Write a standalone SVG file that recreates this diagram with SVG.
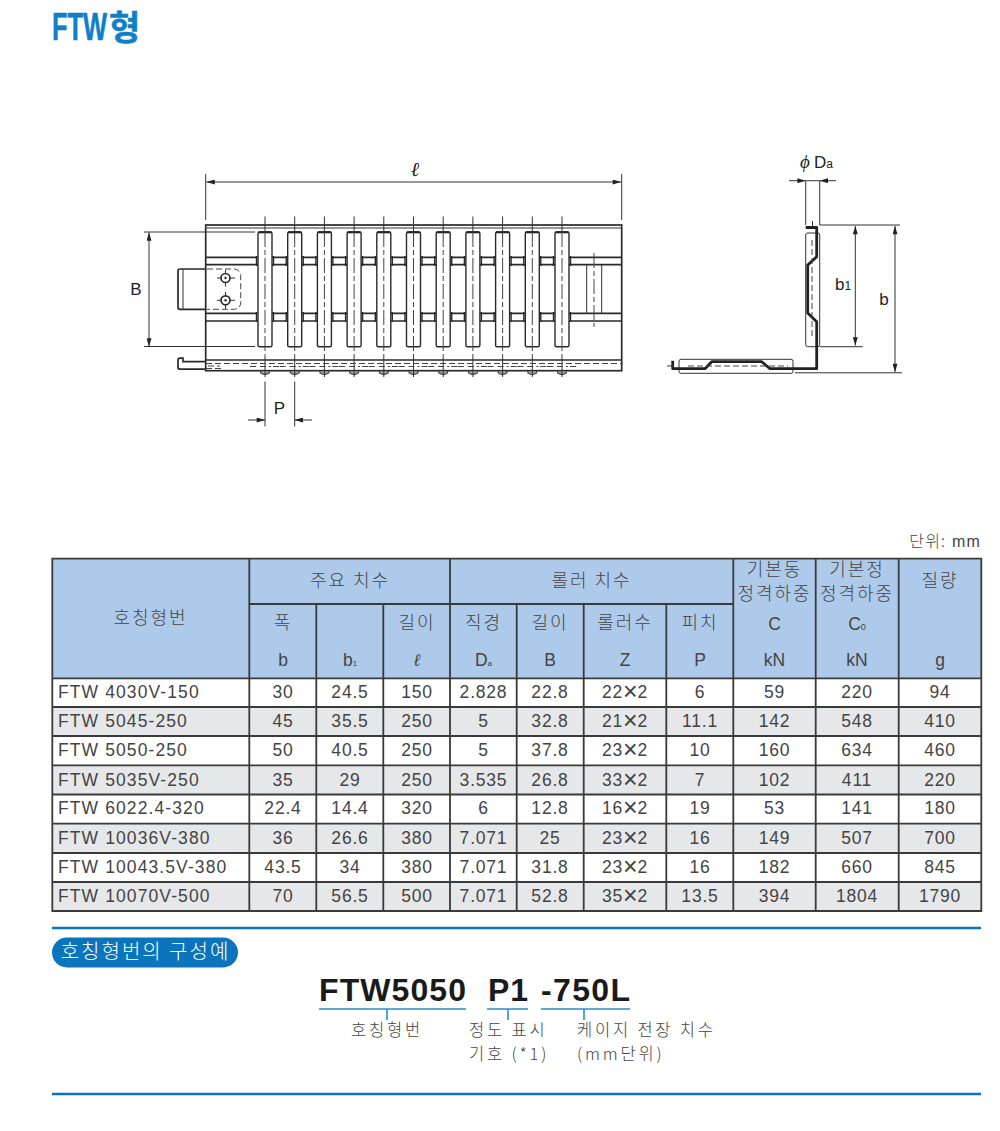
<svg xmlns="http://www.w3.org/2000/svg" width="1000" height="1131" viewBox="0 0 1000 1131">
<style>
text{font-family:"Liberation Sans","Noto Sans CJK KR",sans-serif;fill:#444}
.k{font-family:"Noto Sans CJK KR","Liberation Sans",sans-serif;font-size:18px;letter-spacing:2px;text-anchor:middle;font-weight:300}
.n{font-size:17.5px;letter-spacing:.8px;text-anchor:middle}
.x{font-size:25px;letter-spacing:0;baseline-shift:-2px}
.s{font-size:17.5px;text-anchor:middle}
.l{font-size:17.5px;letter-spacing:1.1px}
.d{font-size:17px;fill:#222;text-anchor:middle}
.th{fill:none;stroke:#2a2a2a;stroke-width:1.7}
.hub{fill:none;stroke:#2a2a2a;stroke-width:1.4}
.tn{fill:none;stroke:#333;stroke-width:1}
.dim{fill:none;stroke:#333;stroke-width:1}
.das{fill:none;stroke:#444;stroke-width:1;stroke-dasharray:6 3}
.cl{fill:none;stroke:#444;stroke-width:1;stroke-dasharray:15 3 5 3}
.grid{fill:none;stroke:#3a3a3a;stroke-width:1.8}
.blue{stroke:#0a75bd;stroke-width:2.6;fill:none}
.ul{stroke:#2790c8;stroke-width:1.6;fill:none}
.k2{font-family:"Noto Sans CJK KR","Liberation Sans",sans-serif;font-size:16.5px;letter-spacing:2.8px;font-weight:300}
.pn{font-size:32px;font-weight:bold;fill:#1a1a1a}
.tt{font-weight:bold;fill:#0f7fc8;stroke:#0f7fc8;stroke-width:.5}
</style>
<defs>
<marker id="a" viewBox="0 0 10 6" refX="10" refY="3" markerWidth="9" markerHeight="5" markerUnits="userSpaceOnUse" orient="auto-start-reverse"><path d="M0 0L10 3L0 6z" fill="#222"/></marker>
<g id="roller">
<path class="hub" d="M256.500 256v10M273.500 256v10M256.500 312v10M273.500 312v10"/>
<rect x="258" y="232" width="14" height="114.700" rx="1.500" fill="#fff" stroke="#2a2a2a" stroke-width="1.400"/>
<path d="M258.500 232.300h13" stroke="#222" stroke-width="2"/>
<path class="dim" d="M265 216.500v15.500"/>
<path class="cl" d="M265 232v125"/>
<path class="das" d="M250 366.500h7M260 366.500h11M273 366.500h7"/>
<path class="tn" d="M260.500 371a4.500 3.500 0 0 0 9 0"/>
<path class="dim" d="M265 357v20M260 373h10"/>
</g>
</defs>

<g id="title">
<text class="tt" transform="translate(52 40) scale(.67 1)" font-size="38">FTW</text>
<text class="tt" x="109" y="40" font-size="34" style="font-family:'Noto Sans CJK KR',sans-serif">형</text>
</g>

<g id="top-view">
<rect x="205.700" y="225" width="416" height="145.700" fill="#fff" class="th"/>
<path class="tn" d="M205.700 228h416"/>
<path class="th" d="M205.700 257.300h416M205.700 264.700h416M205.700 313.300h416M205.700 321h416M205.700 360h416"/>
<path class="th" d="M205.700 269H180a2 2 0 0 0-2 2v36.300a2 2 0 0 0 2 2h25.700"/>
<path class="tn" d="M183 269v40.300"/>
<path class="das" d="M207 269h27a6.500 6.500 0 0 1 6.700 6.500v27.300a6.500 6.500 0 0 1-6.700 6.500H207"/>
<g id="holes">
<circle cx="225.500" cy="278" r="4.500" class="th" fill="#fff"/><circle cx="225.500" cy="278" r="1.200" fill="#333"/>
<circle cx="225.500" cy="300.300" r="4.500" class="th" fill="#fff"/><circle cx="225.500" cy="300.300" r="1.200" fill="#333"/>
<path class="tn" d="M217 278h4M230 278h5M225.500 270v3.500M225.500 282.500v4M217 300.300h4M230 300.300h5M225.500 292v3.800M225.500 304.800v4"/>
</g>
<g id="rollers">
<use href="#roller"/>
<use href="#roller" x="29.700"/>
<use href="#roller" x="59.400"/>
<use href="#roller" x="89.100"/>
<use href="#roller" x="118.800"/>
<use href="#roller" x="148.500"/>
<use href="#roller" x="178.200"/>
<use href="#roller" x="207.900"/>
<use href="#roller" x="237.600"/>
<use href="#roller" x="267.300"/>
<use href="#roller" x="297"/>
</g>
<path class="tn" d="M586.700 264.700v48.600M601.700 264.700v48.600"/>
<path class="cl" d="M594 253v74"/>
<path class="th" d="M205.700 361.700H183v-3.500h-3a2 2 0 0 0-2 2v7a2 2 0 0 0 2 2h25.700"/>
<path class="das" d="M206 363.500h415"/>
<path class="das" d="M206 368.500h15M208 366h12"/>
</g>

<g id="dimensions-top">
<path class="dim" d="M205.700 174v46M621.700 174v46"/>
<path class="dim" d="M206.500 182H621" marker-start="url(#a)" marker-end="url(#a)"/>
<text x="415" y="176" font-size="20" font-style="italic" style="font-family:'Liberation Serif','DejaVu Serif',serif;fill:#222;text-anchor:middle">ℓ</text>
<path class="dim" d="M144 232h111M144 346.500h111"/>
<path class="dim" d="M149 232.500v114" marker-start="url(#a)" marker-end="url(#a)"/>
<text class="d" x="136" y="295">B</text>
<path class="dim" d="M265 381.500v45M294.700 381.500v45"/>
<path class="dim" d="M248 420h17" marker-end="url(#a)"/>
<path class="dim" d="M312 420h-17.300" marker-end="url(#a)"/>
<text class="d" x="279.500" y="414">P</text>
</g>

<g id="side-view">
<rect x="805.700" y="233" width="14" height="113.700" rx="2" fill="#fff" class="tn"/>
<rect x="679" y="359.300" width="114" height="14" rx="2" fill="#fff" class="tn"/>
<path fill="none" stroke="#222" stroke-width="2.800" stroke-linejoin="round" d="M805.700 227.500H816.700V256.700L807.700 265V313L816.700 321.700V368.700H770L761.700 361.700H711.700L705 368.700H672.700V360.700"/>
<path class="das" d="M812 240v98M688 366h100"/>
<path class="dim" d="M812.500 221v6M667 366h7"/>
<path class="dim" d="M805.700 181v44M819.700 181v44"/>
<path class="dim" d="M789 180.700h16.700" marker-end="url(#a)"/>
<path class="dim" d="M836 180.700h-16.300" marker-end="url(#a)"/>
<path class="dim" d="M805.700 180.700h14"/>
<text x="800" y="168" font-size="19" font-style="italic" style="fill:#222;font-family:'Liberation Serif','DejaVu Serif',serif">ϕ</text>
<text x="814" y="168" font-size="17" style="fill:#222">D<tspan font-size="12">a</tspan></text>
<path class="dim" d="M819.700 225H900M819.700 346.700h43M795 372.800h107"/>
<path class="dim" d="M855.300 226v119.500" marker-start="url(#a)" marker-end="url(#a)"/>
<path class="dim" d="M895 226v146" marker-start="url(#a)" marker-end="url(#a)"/>
<text x="835" y="290" font-size="17" style="fill:#222">b<tspan font-size="12">1</tspan></text>
<text class="d" x="884" y="305">b</text>
</g>

<g id="table">
<text x="981" y="547" font-size="16" style="text-anchor:end;letter-spacing:1.2px"><tspan style="font-family:'Noto Sans CJK KR',sans-serif;font-weight:300">단위:</tspan> mm</text>
<rect x="52.300" y="558.700" width="929" height="119.600" fill="#aecaea"/>
<path fill="#e6e7e9" d="M52.300 707h929v29h-929zM52.300 765.300h929v29.200h-929zM52.300 823.700h929v29.300h-929zM52.300 882h929v29h-929z"/>
<path class="grid" d="M52.300 558.700H981.300V911H52.300ZM52.300 678.300H981.300M52.300 707H981.300M52.300 736H981.300M52.300 765.300H981.300M52.300 794.500H981.300M52.300 823.700H981.300M52.300 853H981.300M52.300 882H981.300M249.300 604H733.300M249.300 558.700V911M450 558.700V911M733.300 558.700V911M815.700 558.700V911M898.700 558.700V911M316.300 604V911M383.300 604V911M516.700 604V911M583.700 604V911M666.300 604V911"/>
<g id="table-head">
<text class="k" x="150.500" y="624">호칭형번</text>
<text class="k" x="350" y="587">주요 치수</text>
<text class="k" x="591.500" y="587">롤러 치수</text>
<text class="k" x="774.500" y="575.500">기본동</text>
<text class="k" x="774.500" y="599.500">정격하중</text>
<text class="k" x="857" y="575.500">기본정</text>
<text class="k" x="857" y="599.500">정격하중</text>
<text class="k" x="940" y="587">질량</text>
<text class="k" x="283" y="629">폭</text>
<text class="k" x="417" y="629">길이</text>
<text class="k" x="483.500" y="629">직경</text>
<text class="k" x="550" y="629">길이</text>
<text class="k" x="625" y="629">롤러수</text>
<text class="k" x="700" y="629">피치</text>
<text class="s" x="774.500" y="630">C</text>
<text class="s" x="857" y="630">C<tspan font-size="9">0</tspan></text>
<text class="s" x="283" y="666">b</text>
<text class="s" x="350" y="666">b<tspan font-size="8">1</tspan></text>
<text class="s" x="417" y="666" font-style="italic" style="font-family:'Liberation Serif','DejaVu Serif',serif">ℓ</text>
<text class="s" x="483.500" y="666">D<tspan font-size="8">a</tspan></text>
<text class="s" x="550" y="666">B</text>
<text class="s" x="625" y="666">Z</text>
<text class="s" x="700" y="666">P</text>
<text class="s" x="774.500" y="666">kN</text>
<text class="s" x="857" y="666">kN</text>
<text class="s" x="940" y="666">g</text>
</g>
<g id="row1"><text class="l" x="58" y="698">FTW 4030V-150</text><text class="n" x="283" y="698">30</text><text class="n" x="350" y="698">24.5</text><text class="n" x="417" y="698">150</text><text class="n" x="483.500" y="698">2.828</text><text class="n" x="550" y="698">22.8</text><text class="n" x="625" y="698">22<tspan class="x">×</tspan>2</text><text class="n" x="700" y="698">6</text><text class="n" x="774.500" y="698">59</text><text class="n" x="857" y="698">220</text><text class="n" x="940" y="698">94</text></g>
<g id="row2"><text class="l" x="58" y="727">FTW 5045-250</text><text class="n" x="283" y="727">45</text><text class="n" x="350" y="727">35.5</text><text class="n" x="417" y="727">250</text><text class="n" x="483.500" y="727">5</text><text class="n" x="550" y="727">32.8</text><text class="n" x="625" y="727">21<tspan class="x">×</tspan>2</text><text class="n" x="700" y="727">11.1</text><text class="n" x="774.500" y="727">142</text><text class="n" x="857" y="727">548</text><text class="n" x="940" y="727">410</text></g>
<g id="row3"><text class="l" x="58" y="756">FTW 5050-250</text><text class="n" x="283" y="756">50</text><text class="n" x="350" y="756">40.5</text><text class="n" x="417" y="756">250</text><text class="n" x="483.500" y="756">5</text><text class="n" x="550" y="756">37.8</text><text class="n" x="625" y="756">23<tspan class="x">×</tspan>2</text><text class="n" x="700" y="756">10</text><text class="n" x="774.500" y="756">160</text><text class="n" x="857" y="756">634</text><text class="n" x="940" y="756">460</text></g>
<g id="row4"><text class="l" x="58" y="786">FTW 5035V-250</text><text class="n" x="283" y="786">35</text><text class="n" x="350" y="786">29</text><text class="n" x="417" y="786">250</text><text class="n" x="483.500" y="786">3.535</text><text class="n" x="550" y="786">26.8</text><text class="n" x="625" y="786">33<tspan class="x">×</tspan>2</text><text class="n" x="700" y="786">7</text><text class="n" x="774.500" y="786">102</text><text class="n" x="857" y="786">411</text><text class="n" x="940" y="786">220</text></g>
<g id="row5"><text class="l" x="58" y="814">FTW 6022.4-320</text><text class="n" x="283" y="814">22.4</text><text class="n" x="350" y="814">14.4</text><text class="n" x="417" y="814">320</text><text class="n" x="483.500" y="814">6</text><text class="n" x="550" y="814">12.8</text><text class="n" x="625" y="814">16<tspan class="x">×</tspan>2</text><text class="n" x="700" y="814">19</text><text class="n" x="774.500" y="814">53</text><text class="n" x="857" y="814">141</text><text class="n" x="940" y="814">180</text></g>
<g id="row6"><text class="l" x="58" y="844">FTW 10036V-380</text><text class="n" x="283" y="844">36</text><text class="n" x="350" y="844">26.6</text><text class="n" x="417" y="844">380</text><text class="n" x="483.500" y="844">7.071</text><text class="n" x="550" y="844">25</text><text class="n" x="625" y="844">23<tspan class="x">×</tspan>2</text><text class="n" x="700" y="844">16</text><text class="n" x="774.500" y="844">149</text><text class="n" x="857" y="844">507</text><text class="n" x="940" y="844">700</text></g>
<g id="row7"><text class="l" x="58" y="873">FTW 10043.5V-380</text><text class="n" x="283" y="873">43.5</text><text class="n" x="350" y="873">34</text><text class="n" x="417" y="873">380</text><text class="n" x="483.500" y="873">7.071</text><text class="n" x="550" y="873">31.8</text><text class="n" x="625" y="873">23<tspan class="x">×</tspan>2</text><text class="n" x="700" y="873">16</text><text class="n" x="774.500" y="873">182</text><text class="n" x="857" y="873">660</text><text class="n" x="940" y="873">845</text></g>
<g id="row8"><text class="l" x="58" y="902">FTW 10070V-500</text><text class="n" x="283" y="902">70</text><text class="n" x="350" y="902">56.5</text><text class="n" x="417" y="902">500</text><text class="n" x="483.500" y="902">7.071</text><text class="n" x="550" y="902">52.8</text><text class="n" x="625" y="902">35<tspan class="x">×</tspan>2</text><text class="n" x="700" y="902">13.5</text><text class="n" x="774.500" y="902">394</text><text class="n" x="857" y="902">1804</text><text class="n" x="940" y="902">1790</text></g>
</g>

<g id="example">
<path class="blue" d="M52 928H981M52 1094H981"/>
<rect x="52" y="937.500" width="186" height="30" rx="15" fill="#0a75bd"/>
<text class="k" x="145.500" y="959" style="fill:#fff;font-size:20px;letter-spacing:2px">호칭형번의 구성예</text>
<text class="pn" x="319" y="1001" textLength="147" lengthAdjust="spacing">FTW5050</text>
<text class="pn" x="488" y="1001" textLength="40" lengthAdjust="spacing">P1</text>
<text class="pn" x="541" y="1001" textLength="89" lengthAdjust="spacing">-750L</text>
<path class="ul" d="M319 1009H466M487 1009H528M541 1009H630M387 1009V1020M508 1009V1020M584 1009V1020"/>
<text class="k2" x="351" y="1036">호칭형번</text>
<text class="k2" x="469" y="1036">정도 표시</text>
<text class="k2" x="469" y="1060">기호 (*1)</text>
<text class="k2" x="577" y="1036">케이지 전장 치수</text>
<text class="k2" x="577" y="1060">(mm단위)</text>
</g>
</svg>
